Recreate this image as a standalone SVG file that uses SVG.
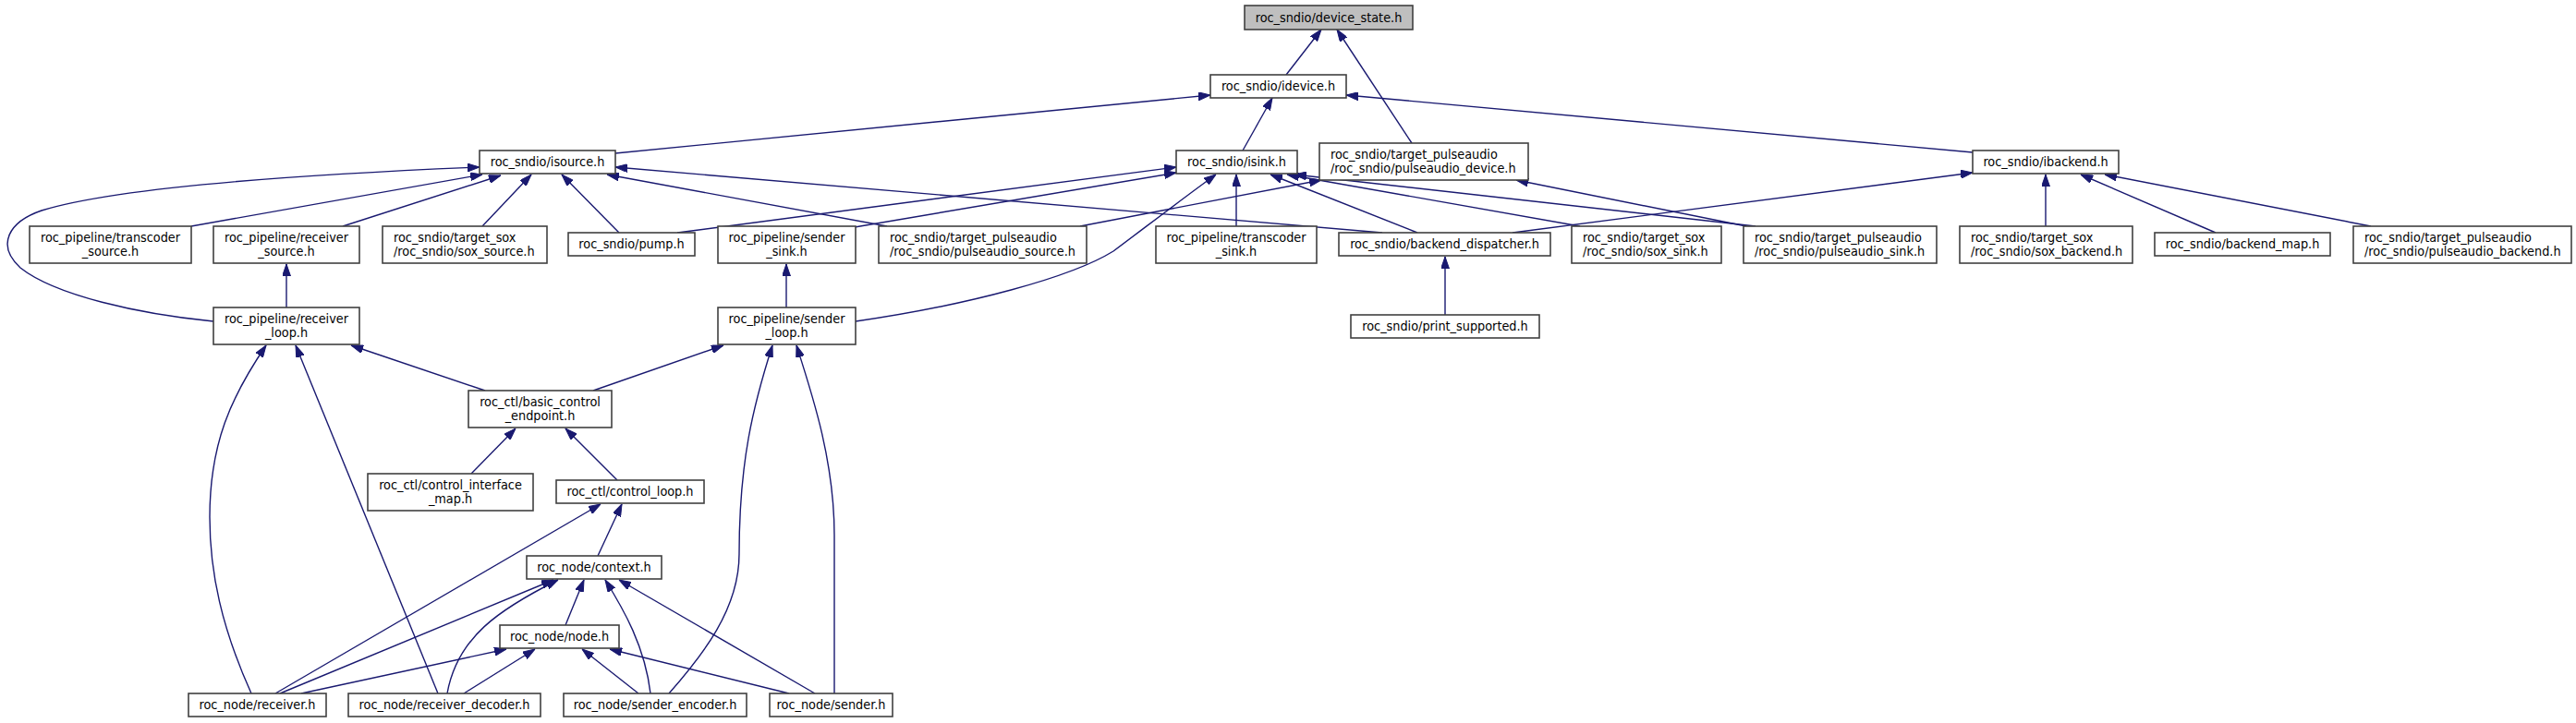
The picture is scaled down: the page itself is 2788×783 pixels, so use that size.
<svg xmlns="http://www.w3.org/2000/svg" width="2788" height="783" viewBox="0 0 2788 783">
<style>
.n rect{fill:#ffffff;stroke:#404040;stroke-width:1.6}
.n text{font-family:"DejaVu Sans Condensed","DejaVu Sans",sans-serif;font-size:14.3px;fill:#000}
.c{text-anchor:middle}
.e path{fill:none;stroke:#191970;stroke-width:1.4;marker-end:url(#ah)}
</style>
<defs>
<marker id="ah" viewBox="0 0 13 9" refX="13" refY="4.5" markerWidth="13" markerHeight="9" markerUnits="userSpaceOnUse" orient="auto">
<path d="M0,0 L13,4.5 L0,9 z" fill="#191970" stroke="#191970" stroke-width="1"/>
</marker>
</defs>
<rect width="2788" height="783" fill="#ffffff"/>
<g class="e" id="edges">
<path d="M1392,81 L1430,32"/>
<path d="M1528,155 L1447,32"/>
<path d="M666,166 L1310,103"/>
<path d="M1345,163 L1377,106"/>
<path d="M2135,165 L1457,103"/>
<path d="M207,245 L522,189"/>
<path d="M371,245 L542,190"/>
<path d="M522,245 L575,189"/>
<path d="M670,252 L608,189"/>
<path d="M231,348 C150,340 60,320 22,290 C-5,265 10,240 45,228 C120,205 300,190 519,181"/>
<path d="M960,245 L657,189"/>
<path d="M1496,252 L666,181"/>
<path d="M733,252 L1273,181"/>
<path d="M925,246 L1273,187"/>
<path d="M1169,245 L1430,195"/>
<path d="M926,348 C1050,330 1160,300 1205,272 C1245,242 1280,215 1316,189"/>
<path d="M1338,245 L1338,189"/>
<path d="M1534,252 L1375,189"/>
<path d="M1710,245 L1393,189"/>
<path d="M1900,245 L1401,189"/>
<path d="M1890,245 L1641,195"/>
<path d="M1637,252 L2135,187"/>
<path d="M2214,245 L2214,189"/>
<path d="M2398,252 L2252,189"/>
<path d="M2566,245 L2278,189"/>
<path d="M1564,341 L1564,278"/>
<path d="M310,333 L310,286"/>
<path d="M851,333 L851,286"/>
<path d="M525,423 L380,374"/>
<path d="M642,423 L783,374"/>
<path d="M510,513 L558,464"/>
<path d="M668,520 L612,464"/>
<path d="M272,751 C240,680 227,620 227,560 C227,480 250,430 288,374"/>
<path d="M474,751 L320,374"/>
<path d="M724,751 C760,710 800,660 800,600 C800,500 815,440 836,374"/>
<path d="M903,751 L903,580 C903,500 880,430 862,374"/>
<path d="M647,602 L673,546"/>
<path d="M298,751 L650,546"/>
<path d="M303,751 L599,628"/>
<path d="M326,751 L548,703"/>
<path d="M484,751 C495,690 540,660 604,628"/>
<path d="M502,751 L579,703"/>
<path d="M612,677 L632,628"/>
<path d="M704,751 C698,700 675,660 655,628"/>
<path d="M691,751 L630,703"/>
<path d="M854,751 L660,703"/>
<path d="M882,751 L670,628"/>
</g>
<g class="n" id="device_state"><rect x="1347" y="6" width="182" height="26" style="fill:#bfbfbf"/><text class="c" x="1438" y="23.5">roc_sndio/device_state.h</text></g>
<g class="n" id="idevice"><rect x="1310" y="81" width="147" height="25"/><text class="c" x="1383.5" y="98">roc_sndio/idevice.h</text></g>
<g class="n" id="isource"><rect x="519" y="163" width="147" height="25"/><text class="c" x="592.5" y="180">roc_sndio/isource.h</text></g>
<g class="n" id="isink"><rect x="1273" y="163" width="131" height="25"/><text class="c" x="1338.5" y="180">roc_sndio/isink.h</text></g>
<g class="n" id="pulseaudio_device"><rect x="1428" y="155" width="226" height="40"/><text x="1440" y="171.5">roc_sndio/target_pulseaudio</text><text x="1440" y="186.5">/roc_sndio/pulseaudio_device.h</text></g>
<g class="n" id="ibackend"><rect x="2135" y="163" width="158" height="25"/><text class="c" x="2214" y="180">roc_sndio/ibackend.h</text></g>
<g class="n" id="transcoder_source"><rect x="32" y="245" width="175" height="40"/><text class="c" x="119.5" y="261.5">roc_pipeline/transcoder</text><text class="c" x="119.5" y="276.5">_source.h</text></g>
<g class="n" id="receiver_source"><rect x="231" y="245" width="158" height="40"/><text class="c" x="310" y="261.5">roc_pipeline/receiver</text><text class="c" x="310" y="276.5">_source.h</text></g>
<g class="n" id="sox_source"><rect x="414" y="245" width="178" height="40"/><text x="426" y="261.5">roc_sndio/target_sox</text><text x="426" y="276.5">/roc_sndio/sox_source.h</text></g>
<g class="n" id="pump"><rect x="615" y="252" width="137" height="25"/><text class="c" x="683.5" y="269">roc_sndio/pump.h</text></g>
<g class="n" id="sender_sink"><rect x="777" y="245" width="149" height="40"/><text class="c" x="851.5" y="261.5">roc_pipeline/sender</text><text class="c" x="851.5" y="276.5">_sink.h</text></g>
<g class="n" id="pulseaudio_source"><rect x="951" y="245" width="225" height="40"/><text x="963" y="261.5">roc_sndio/target_pulseaudio</text><text x="963" y="276.5">/roc_sndio/pulseaudio_source.h</text></g>
<g class="n" id="transcoder_sink"><rect x="1251" y="245" width="174" height="40"/><text class="c" x="1338" y="261.5">roc_pipeline/transcoder</text><text class="c" x="1338" y="276.5">_sink.h</text></g>
<g class="n" id="backend_dispatcher"><rect x="1449" y="252" width="229" height="25"/><text class="c" x="1563.5" y="269">roc_sndio/backend_dispatcher.h</text></g>
<g class="n" id="sox_sink"><rect x="1701" y="245" width="162" height="40"/><text x="1713" y="261.5">roc_sndio/target_sox</text><text x="1713" y="276.5">/roc_sndio/sox_sink.h</text></g>
<g class="n" id="pulseaudio_sink"><rect x="1887" y="245" width="209" height="40"/><text x="1899" y="261.5">roc_sndio/target_pulseaudio</text><text x="1899" y="276.5">/roc_sndio/pulseaudio_sink.h</text></g>
<g class="n" id="sox_backend"><rect x="2121" y="245" width="187" height="40"/><text x="2133" y="261.5">roc_sndio/target_sox</text><text x="2133" y="276.5">/roc_sndio/sox_backend.h</text></g>
<g class="n" id="backend_map"><rect x="2332" y="252" width="190" height="25"/><text class="c" x="2427" y="269">roc_sndio/backend_map.h</text></g>
<g class="n" id="pulseaudio_backend"><rect x="2547" y="245" width="236" height="40"/><text x="2559" y="261.5">roc_sndio/target_pulseaudio</text><text x="2559" y="276.5">/roc_sndio/pulseaudio_backend.h</text></g>
<g class="n" id="receiver_loop"><rect x="231" y="333" width="158" height="40"/><text class="c" x="310" y="349.5">roc_pipeline/receiver</text><text class="c" x="310" y="364.5">_loop.h</text></g>
<g class="n" id="sender_loop"><rect x="777" y="333" width="149" height="40"/><text class="c" x="851.5" y="349.5">roc_pipeline/sender</text><text class="c" x="851.5" y="364.5">_loop.h</text></g>
<g class="n" id="print_supported"><rect x="1462" y="341" width="204" height="25"/><text class="c" x="1564" y="358">roc_sndio/print_supported.h</text></g>
<g class="n" id="basic_control_endpoint"><rect x="507" y="423" width="155" height="40"/><text class="c" x="584.5" y="439.5">roc_ctl/basic_control</text><text class="c" x="584.5" y="454.5">_endpoint.h</text></g>
<g class="n" id="control_interface_map"><rect x="398" y="513" width="179" height="40"/><text class="c" x="487.5" y="529.5">roc_ctl/control_interface</text><text class="c" x="487.5" y="544.5">_map.h</text></g>
<g class="n" id="control_loop"><rect x="602" y="520" width="160" height="25"/><text class="c" x="682" y="537">roc_ctl/control_loop.h</text></g>
<g class="n" id="context"><rect x="570" y="602" width="146" height="25"/><text class="c" x="643" y="619">roc_node/context.h</text></g>
<g class="n" id="node"><rect x="541" y="677" width="129" height="25"/><text class="c" x="605.5" y="694">roc_node/node.h</text></g>
<g class="n" id="receiver"><rect x="204" y="751" width="149" height="25"/><text class="c" x="278.5" y="768">roc_node/receiver.h</text></g>
<g class="n" id="receiver_decoder"><rect x="377" y="751" width="208" height="25"/><text class="c" x="481" y="768">roc_node/receiver_decoder.h</text></g>
<g class="n" id="sender_encoder"><rect x="610" y="751" width="198" height="25"/><text class="c" x="709" y="768">roc_node/sender_encoder.h</text></g>
<g class="n" id="sender"><rect x="833" y="751" width="133" height="25"/><text class="c" x="899.5" y="768">roc_node/sender.h</text></g>
</svg>
